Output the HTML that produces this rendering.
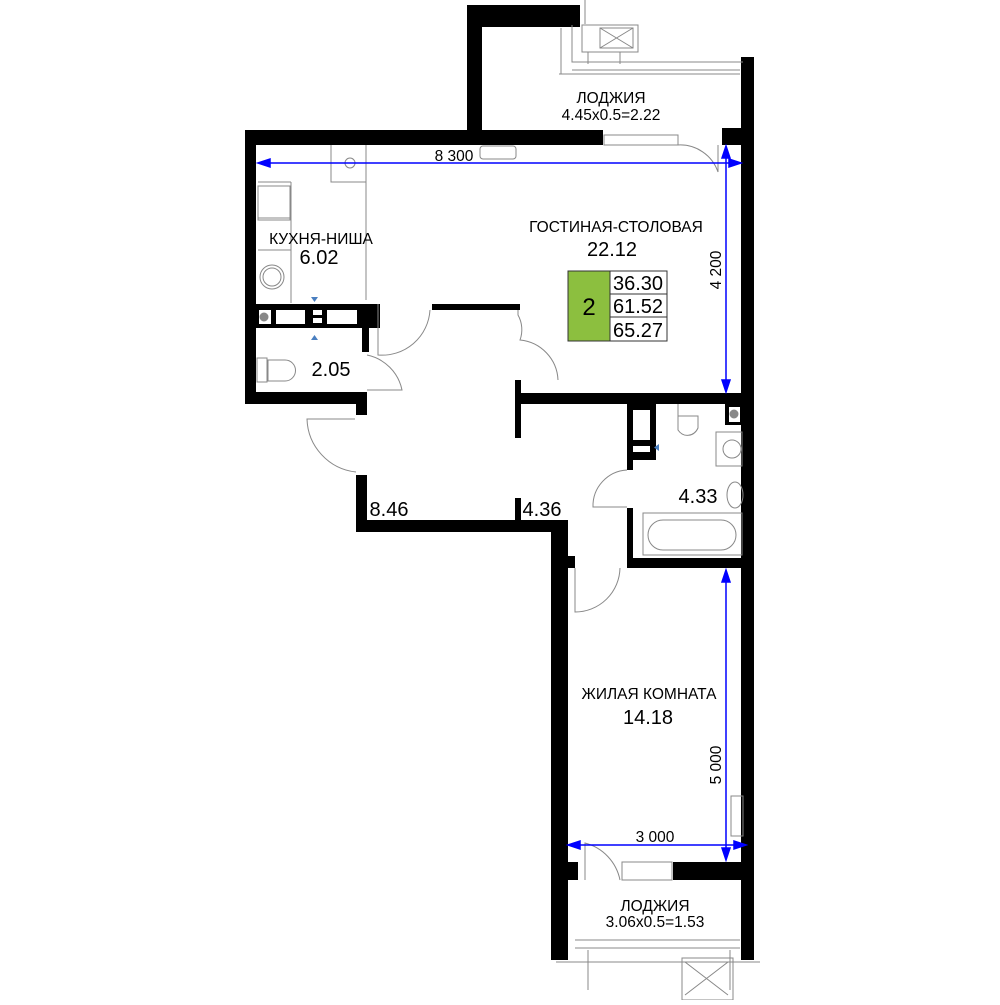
<!DOCTYPE html>
<html><head><meta charset="utf-8"><style>
body{margin:0;background:#fff}
svg text{font-family:"Liberation Sans",sans-serif;fill:#000}
</style></head><body>
<svg width="1000" height="1000" viewBox="0 0 1000 1000" xmlns="http://www.w3.org/2000/svg">
<g fill="#000">
<rect x="467" y="5" width="113" height="22"/>
<rect x="467" y="5" width="15" height="140"/>
<rect x="741" y="57" width="13" height="903"/>
<rect x="722" y="128" width="20" height="17"/>
<rect x="245" y="130" width="358" height="15"/>
<rect x="245" y="130" width="11" height="274"/>
<rect x="245" y="304" width="135" height="24"/>
<rect x="362" y="304" width="7" height="48"/>
<rect x="245" y="392" width="122" height="12"/>
<rect x="356" y="392" width="11" height="23"/>
<rect x="356" y="475" width="11" height="57"/>
<rect x="356" y="520" width="206" height="12"/>
<rect x="551" y="520" width="17" height="440"/>
<rect x="562" y="556" width="13" height="12"/>
<rect x="432" y="304" width="88" height="6"/>
<rect x="515" y="380" width="6" height="58"/>
<rect x="515" y="498" width="6" height="24"/>
<rect x="515" y="393" width="230" height="11"/>
<rect x="627" y="404" width="29" height="56"/>
<rect x="627" y="404" width="6" height="66"/>
<rect x="627" y="508" width="6" height="60"/>
<rect x="627" y="558" width="120" height="10"/>
<rect x="725" y="404" width="18" height="21"/>
<rect x="551" y="862" width="27" height="18"/>
<rect x="673" y="862" width="72" height="18"/>
</g>
<g fill="#fff">
<rect x="259" y="310" width="12" height="14"/>
<rect x="276" y="310" width="29" height="14"/>
<rect x="313" y="310" width="9" height="5"/>
<rect x="313" y="318" width="9" height="5"/>
<rect x="327" y="310" width="30" height="14"/>
<rect x="633" y="410" width="17" height="30"/>
<rect x="633" y="446" width="17" height="6"/>
<rect x="729" y="407" width="11" height="15"/>
</g>
<g fill="none" stroke="#888" stroke-width="1">
<circle cx="264" cy="317" r="4" fill="#888"/>
<circle cx="734" cy="414" r="4" fill="#888"/>
<path d="M572 25V62H743M572 70H740M561 28V74M582 25V52H638V25ZM585 24V0M588 52V64M620 52V64M600 28H633V48H600Z"/>
<path d="M559 74H740M600 28L633 48M633 28L600 48"/>
<rect x="604" y="135" width="74" height="10"/>
<path d="M678 145A40 40 0 0 1 718 172V145"/>
<rect x="480" y="146" width="36" height="13" rx="3"/>
<path d="M331 145V182H366M366 145V300M291 182V303M258 182H291M258 218H291M258 250H291"/>
<rect x="258" y="186" width="32" height="34"/>
<circle cx="272" cy="277" r="12"/>
<circle cx="272" cy="277" r="9"/>
<circle cx="350" cy="163" r="5"/>
<rect x="257" y="358" width="10" height="24"/>
<path d="M268 360H285A10 10 0 0 1 285 381H268Z"/>
<path d="M378 304V355A48 48 0 0 0 430 310"/>
<path d="M367 355A45 45 0 0 1 402 390H367"/>
<path d="M518 310V315A30 30 0 0 1 520 340A42 42 0 0 1 558 380"/>
<path d="M355 419H307A55 55 0 0 0 356 472"/>
<path d="M627 470A36 36 0 0 0 593 507H627"/>
<path d="M575 568V612A45 45 0 0 0 620 568"/>
<path d="M678 404V416M678 416H698V428A12 14 0 0 1 678 430Z"/>
<rect x="716" y="432" width="26" height="34"/>
<circle cx="732" cy="449" r="9"/>
<ellipse cx="735" cy="495" rx="8" ry="13"/>
<rect x="643" y="513" width="99" height="42"/>
<rect x="648" y="520" width="88" height="30" rx="15"/>
<rect x="731" y="796" width="12" height="40"/>
<rect x="622" y="862" width="50" height="18"/>
<path d="M585 880V843A48 48 0 0 1 620 880"/>
<path d="M575 940H740M575 948H740M556 962H760M588 950V990M730 950V990M682 958H733V1000H682Z"/>
<path d="M685 962L728 995M728 962L685 995"/>
</g>
<g stroke="#00f" stroke-width="1.5" fill="#00f">
<line x1="262" y1="163" x2="737" y2="163"/>
<path d="M258 163l12-4v8zM741 163l-12-4v8z"/>
<line x1="726" y1="150" x2="726" y2="390"/>
<path d="M726 146l-4 12h8zM726 392l-4-12h8z"/>
<line x1="726" y1="572" x2="726" y2="858"/>
<path d="M726 570l-4 12h8zM726 860l-4-12h8z"/>
<line x1="570" y1="845" x2="745" y2="845"/>
<path d="M568 845l12-4v8zM746 845l-12-4v8z"/>
</g>
<path d="M311 297h7l-3.5 5z M311 340h7l-3.5-5z M659 451v-7l-5 3.5z" fill="#4a7fc0"/>
<rect x="568" y="271" width="42" height="70" fill="#8cbf3f" stroke="#333"/>
<rect x="610" y="271" width="57" height="23" fill="#fff" stroke="#333"/>
<rect x="610" y="294" width="57" height="23" fill="#fff" stroke="#333"/>
<rect x="610" y="317" width="57" height="24" fill="#fff" stroke="#333"/>
<g font-size="20">
<text x="589" y="315" text-anchor="middle" font-size="24">2</text>
<text x="638" y="290" text-anchor="middle">36.30</text>
<text x="638" y="313" text-anchor="middle">61.52</text>
<text x="638" y="337" text-anchor="middle">65.27</text>
</g>
<g font-size="15.5" text-anchor="middle">
<text x="611" y="103">ЛОДЖИЯ</text>
<text x="611" y="120">4.45x0.5=2.22</text>
<text x="454" y="161">8 300</text>
<text x="616" y="232">ГОСТИНАЯ-СТОЛОВАЯ</text>
<text x="321" y="244">КУХНЯ-НИША</text>
<text x="649" y="699">ЖИЛАЯ КОМНАТА</text>
<text x="655" y="842">3 000</text>
<text x="655" y="911">ЛОДЖИЯ</text>
<text x="655" y="927">3.06x0.5=1.53</text>
<text transform="translate(721 270) rotate(-90)">4 200</text>
<text transform="translate(721 765) rotate(-90)">5 000</text>
</g>
<g font-size="20" text-anchor="middle">
<text x="612" y="256">22.12</text>
<text x="319" y="264">6.02</text>
<text x="331" y="376">2.05</text>
<text x="389" y="516">8.46</text>
<text x="542" y="516">4.36</text>
<text x="698" y="503">4.33</text>
<text x="648" y="724">14.18</text>
</g>
</svg>
</body></html>
